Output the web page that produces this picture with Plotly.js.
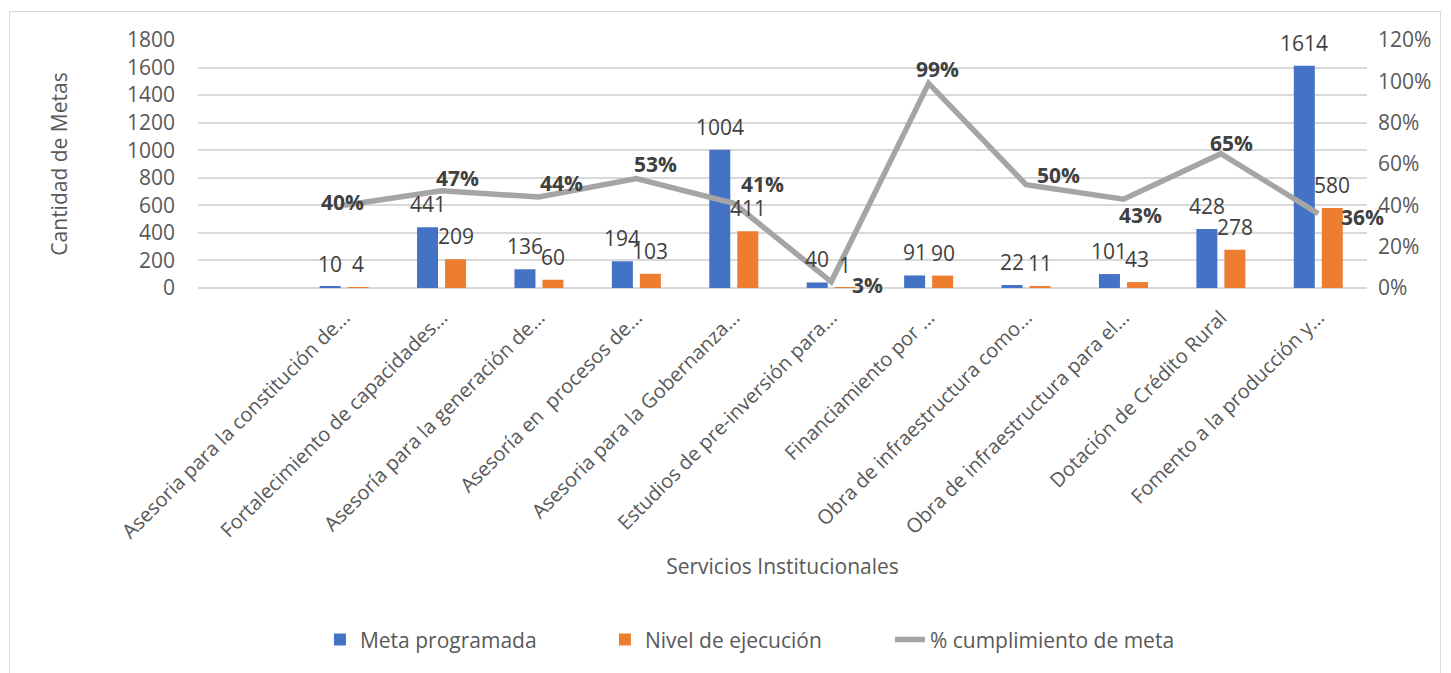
<!DOCTYPE html>
<html>
<head>
<meta charset="utf-8">
<script src="https://cdn.plot.ly/plotly-3.0.1.min.js"></script>
<style>
  html, body { margin: 0; padding: 0; background: #ffffff; overflow: hidden; }
  #frame { position: absolute; left: 9px; top: 11px; width: 1432px; height: 700px; border: 1px solid #d9d9d9; box-sizing: border-box; }
  #chart { position: absolute; left: 0; top: 0; width: 1451px; height: 673px; }
</style>
</head>
<body>
<div id="frame"></div>
<div id="chart"></div>
<script>
// ---- data ----
const categories = [
  "Asesoria para la constitución de...",
  "Fortalecimiento de capacidades...",
  "Asesoría para la generación de...",
  "Asesoría en  procesos de...",
  "Asesoria para la Gobernanza...",
  "Estudios de pre-inversión para...",
  "Financiamiento por ...",
  "Obra de infraestructura como...",
  "Obra de infraestructura para el...",
  "Dotación de Crédito Rural",
  "Fomento a la producción y..."
];
const metaProgramada = [10, 441, 136, 194, 1004, 40, 91, 22, 101, 428, 1614];
const nivelEjecucion = [4, 209, 60, 103, 411, 1, 90, 11, 43, 278, 580];
const pctCumplimiento = [0.40, 0.47, 0.44, 0.53, 0.41, 0.03, 0.99, 0.50, 0.43, 0.65, 0.36];

// ---- label placement (style only) ----
const pctLabelShift = [[-2,3],[16,13],[23,14],[19,14],[29,19],[36,-3],[9,14],[32,10],[17,-16],[11,11],[44,-3]];

const FONT = "'Open Sans', 'DejaVu Sans', sans-serif";
const BLUE = "#4472c4", ORANGE = "#ed7d31", GRAY = "#a5a5a5";
const FS = 21;

const traces = [
  { type: "bar", name: "Meta programada", x: categories, y: metaProgramada,
    marker: { color: BLUE }, hoverinfo: "y" },
  { type: "bar", name: "Nivel de ejecución", x: categories, y: nivelEjecucion,
    marker: { color: ORANGE }, hoverinfo: "y" },
  { type: "scatter", mode: "lines", name: "% cumplimiento de meta", x: categories, y: pctCumplimiento,
    yaxis: "y2", line: { color: GRAY, width: 5.5 }, hoverinfo: "y" }
];

const annotations = [];
categories.forEach((c, i) => {
  annotations.push({ x: c, y: metaProgramada[i], xref: "x", yref: "y", text: String(metaProgramada[i]),
    showarrow: false, xshift: -14, yshift: 23, font: { family: FONT, size: FS, color: "#404040" } });
  annotations.push({ x: c, y: nivelEjecucion[i], xref: "x", yref: "y", text: String(nivelEjecucion[i]),
    showarrow: false, xshift: 14, yshift: 23, font: { family: FONT, size: FS, color: "#404040" } });
  annotations.push({ x: c, y: pctCumplimiento[i], xref: "x", yref: "y2",
    text: "<b>" + Math.round(pctCumplimiento[i] * 100) + "%</b>",
    showarrow: false, xshift: pctLabelShift[i][0], yshift: pctLabelShift[i][1],
    font: { family: FONT, size: FS, color: "#404040" } });
});

const layout = {
  width: 1451, height: 673,
  paper_bgcolor: "rgba(0,0,0,0)", plot_bgcolor: "rgba(0,0,0,0)",
  margin: { l: 198, r: 84, t: 40, b: 385 },
  font: { family: FONT, size: FS, color: "#595959" },
  barmode: "group", bargap: 0.425, bargroupgap: 0.25,
  showlegend: true,
  legend: { orientation: "h", x: 0.47, xanchor: "center", y: -1.419, yanchor: "middle",
    font: { family: FONT, size: FS, color: "#595959" }, entrywidth: 240, entrywidthmode: "pixels",
    traceorder: "normal" },
  xaxis: {
    type: "category", range: [-1.5, 10.5], tickangle: -45, ticks: "", showgrid: false,
    showline: false, zeroline: false, ticklabelstandoff: 13,
    tickfont: { family: FONT, size: 20, color: "#595959" },
    title: { text: "Servicios Institucionales", font: { family: FONT, size: FS, color: "#595959" }, standoff: 16 }
  },
  yaxis: {
    range: [0, 1800], dtick: 200, tick0: 0, showgrid: true, gridcolor: "#d9d9d9", gridwidth: 1.5,
    zeroline: true, zerolinecolor: "#d9d9d9", zerolinewidth: 1.5, ticks: "", ticklabelstandoff: 22,
    tickfont: { family: FONT, size: FS, color: "#595959" },
    title: { text: "Cantidad de Metas", font: { family: FONT, size: FS, color: "#595959" }, standoff: 53 }
  },
  yaxis2: {
    overlaying: "y", side: "right", range: [0, 1.2], dtick: 0.2, tick0: 0, tickformat: ".0%",
    showgrid: false, zeroline: false, ticks: "", ticklabelstandoff: 10,
    tickfont: { family: FONT, size: FS, color: "#595959" }
  },
  annotations: annotations
};

Plotly.newPlot("chart", traces, layout, { displayModeBar: false, responsive: false });
</script>
</body>
</html>
